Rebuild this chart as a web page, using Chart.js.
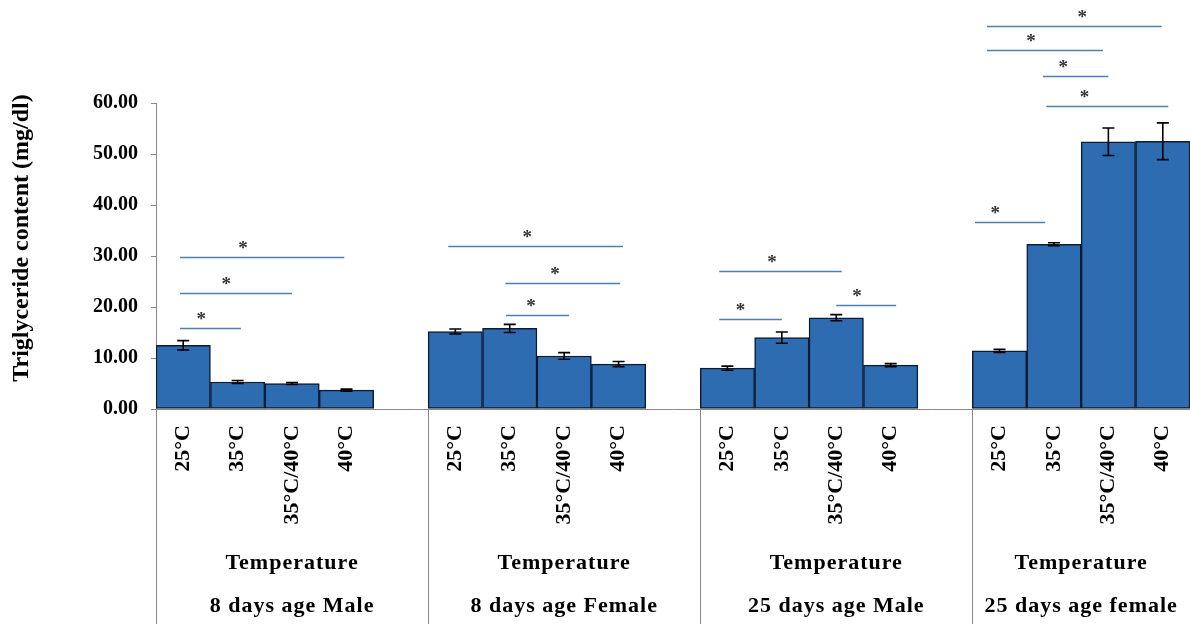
<!DOCTYPE html>
<html>
<head>
<meta charset="utf-8">
<script src="https://cdn.jsdelivr.net/npm/chart.js@4.4.1/dist/chart.umd.min.js"></script>
<style>
  html, body { margin: 0; padding: 0; background: #ffffff; }
  #chart { display: block; }
</style>
</head>
<body>
<canvas id="chart" width="1190" height="624"></canvas>
<script>
// Temperature treatments shown inside every age/sex group
const temperatures = ['25°C', '35°C', '35°C/40°C', '40°C'];
const groupNames = ['8 days age Male', '8 days age Female', '25 days age Male', '25 days age female'];
const levelName = 'Temperature';

// Mean triglyceride content (mg/dl) per group, in temperature order
const male8Means = [12.5, 5.3, 5.0, 3.7];
const female8Means = [15.2, 15.8, 10.4, 8.8];
const male25Means = [8.0, 14.0, 17.9, 8.6];
const female25Means = [11.4, 32.3, 52.4, 52.5];

// Standard errors for the same bars
const male8Err = [0.9, 0.3, 0.2, 0.2];
const female8Err = [0.5, 0.8, 0.65, 0.5];
const male25Err = [0.4, 1.1, 0.6, 0.3];
const female25Err = [0.3, 0.3, 2.7, 3.6];

// Value axis ticks
const yTicks = [0, 10, 20, 30, 40, 50, 60];

// Significance brackets: span along the category axis, height in mg/dl, asterisk position
const sigFrom  = [-0.06, -0.06, -0.06, 4.87, 5.92, 5.93, 9.85, 9.85, 12.0, 14.77, 14.77, 15.8, 15.86, 14.55];
const sigTo    = [2.96, 2.0, 1.06, 8.08, 8.03, 7.09, 12.1, 11.0, 13.1, 17.98, 16.9, 17.0, 18.1, 15.84];
const sigLevel = [29.9, 22.7, 15.9, 32.0, 24.8, 18.4, 27.1, 17.6, 20.3, 75.1, 70.3, 65.2, 59.5, 36.7];
const sigStar  = [1.1, 0.79, 0.33, 6.32, 6.83, 6.39, 10.82, 10.24, 12.38, 16.52, 15.58, 16.17, 16.56, 14.92];

// Flatten groups into one category axis with an empty slot after each of the first three groups
const groupMeans = [male8Means, female8Means, male25Means, female25Means];
const groupErrs = [male8Err, female8Err, male25Err, female25Err];
const labels = [], values = [], errors = [];
groupMeans.forEach((means, g) => {
  means.forEach((v, i) => { labels.push(temperatures[i]); values.push(v); errors.push(groupErrs[g][i]); });
  if (g < groupMeans.length - 1) { labels.push(''); values.push(null); errors.push(null); }
});
const slotsPerGroup = temperatures.length + 1;

const SERIF = '"Liberation Serif", "Times New Roman", serif';

const decorations = {
  id: 'decorations',
  afterDatasetsDraw(chart) {
    const ctx = chart.ctx;
    const x = chart.scales.x, y = chart.scales.y;
    const meta = chart.getDatasetMeta(0);

    // error bars
    ctx.save();
    ctx.strokeStyle = '#000000';
    ctx.lineWidth = 1.6;
    meta.data.forEach((bar, i) => {
      if (values[i] === null) return;
      const cx = bar.x;
      const yHi = y.getPixelForValue(values[i] + errors[i]);
      const yLo = y.getPixelForValue(values[i] - errors[i]);
      ctx.beginPath();
      ctx.moveTo(cx, yHi); ctx.lineTo(cx, yLo);
      ctx.moveTo(cx - 6, yHi); ctx.lineTo(cx + 6, yHi);
      ctx.moveTo(cx - 6, yLo); ctx.lineTo(cx + 6, yLo);
      ctx.stroke();
    });
    ctx.restore();

    // significance lines and asterisks
    ctx.save();
    ctx.strokeStyle = '#4f7fae';
    ctx.lineWidth = 1.5;
    ctx.fillStyle = '#333333';
    ctx.font = 'bold 19px ' + SERIF;
    ctx.textAlign = 'center';
    ctx.textBaseline = 'middle';
    sigLevel.forEach((lv, k) => {
      const py = Math.round(y.getPixelForValue(lv)) + 0.5;
      ctx.beginPath();
      ctx.moveTo(x.getPixelForValue(sigFrom[k]), py);
      ctx.lineTo(x.getPixelForValue(sigTo[k]), py);
      ctx.stroke();
      ctx.fillText('*', x.getPixelForValue(sigStar[k]), py - 8);
    });
    ctx.restore();

    // group separators and multi-level category labels
    ctx.save();
    ctx.strokeStyle = '#888888';
    ctx.lineWidth = 1;
    ctx.fillStyle = '#000000';
    ctx.font = 'bold 22px ' + SERIF;
    ctx.letterSpacing = '1px';
    ctx.textAlign = 'center';
    ctx.textBaseline = 'middle';
    const base = chart.chartArea.bottom;
    groupNames.forEach((name, g) => {
      const start = g * slotsPerGroup;
      const span = g < groupNames.length - 1 ? slotsPerGroup : temperatures.length;
      const left = x.getPixelForValue(start - 0.5);
      const right = x.getPixelForValue(start + span - 0.5);
      const sx = Math.round(left) + 0.5;
      ctx.beginPath();
      ctx.moveTo(sx, base); ctx.lineTo(sx, chart.height);
      ctx.stroke();
      const cx = (left + right) / 2;
      ctx.fillText(levelName, cx, 563);
      ctx.fillText(name, cx, 606);
    });
    ctx.restore();

    // value axis title
    ctx.save();
    ctx.fillStyle = '#000000';
    ctx.font = 'bold 24px ' + SERIF;
    ctx.textAlign = 'center';
    ctx.textBaseline = 'middle';
    ctx.translate(22, 238);
    ctx.rotate(-Math.PI / 2);
    ctx.fillText('Triglyceride content (mg/dl)', 0, 0);
    ctx.restore();
  }
};

new Chart(document.getElementById('chart'), {
  type: 'bar',
  data: {
    labels: labels,
    datasets: [{
      data: values,
      backgroundColor: '#2e6cb2',
      borderColor: '#0d1b33',
      borderWidth: 1.5,
      borderSkipped: false,
      barPercentage: 1,
      categoryPercentage: 1
    }]
  },
  options: {
    responsive: false,
    animation: false,
    devicePixelRatio: 1,
    layout: { padding: { top: 103, right: 0, bottom: 0, left: 0 } },
    plugins: { legend: { display: false }, tooltip: { enabled: false } },
    scales: {
      x: {
        grid: { display: false, drawTicks: false },
        border: { display: true, color: '#888888', width: 1 },
        ticks: {
          autoSkip: false, minRotation: 90, maxRotation: 90, padding: 16,
          color: '#000000', font: { family: SERIF, size: 22, weight: 'bold' }
        },
        afterFit(scale) {
          scale.height = 215;
          scale.paddingLeft = 0;
          scale.paddingRight = 0;
        }
      },
      y: {
        min: 0, max: 60,
        afterBuildTicks(scale) { scale.ticks = yTicks.map(v => ({ value: v })); },
        grid: { drawOnChartArea: false, drawTicks: true, tickLength: 5, color: '#888888' },
        border: { display: true, color: '#888888', width: 1 },
        ticks: {
          padding: 13, color: '#000000',
          font: { family: SERIF, size: 20, weight: 'bold' },
          callback: v => Number(v).toFixed(2)
        },
        afterFit(scale) { scale.width = 156; }
      }
    }
  },
  plugins: [decorations]
});
</script>
</body>
</html>
